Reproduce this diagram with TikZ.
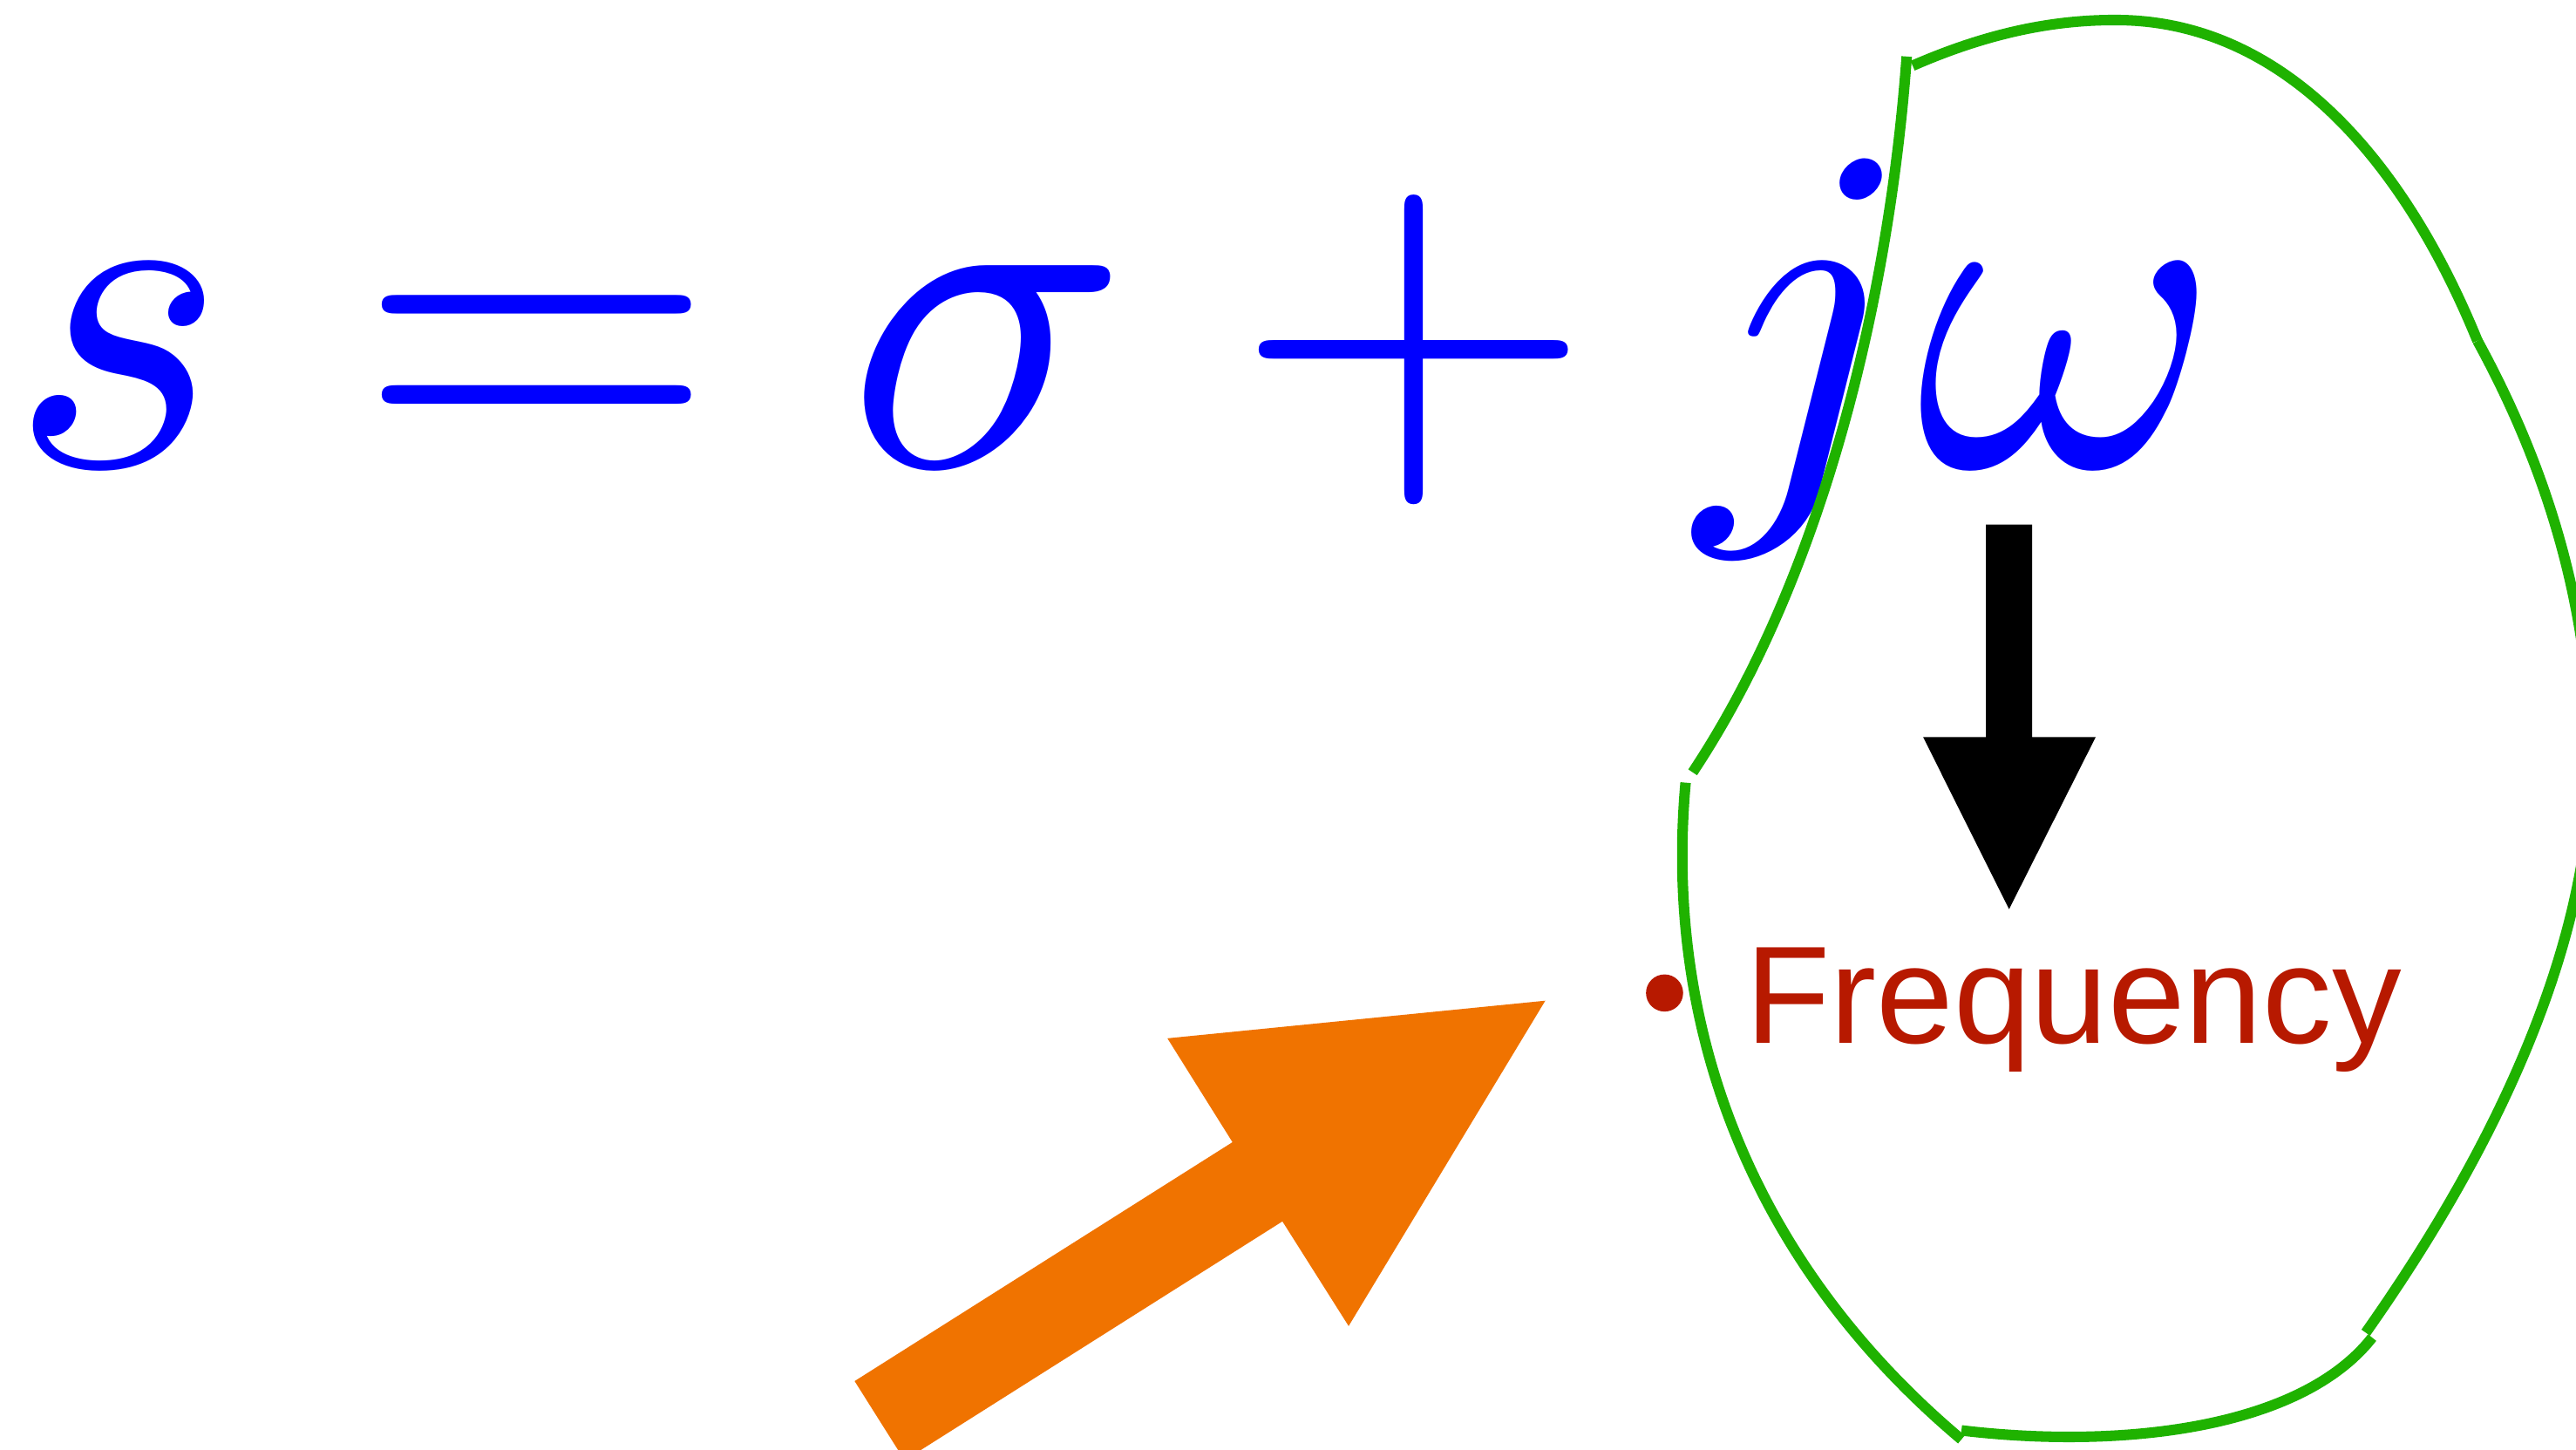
\documentclass[tikz,border=0pt]{standalone}
\usepackage{fontspec}
\newfontfamily\freqfont{Liberation Sans}
\definecolor{eqblue}{RGB}{0,0,255}
\definecolor{curvegreen}{RGB}{31,178,0}
\definecolor{arroworange}{RGB}{240,115,0}
\definecolor{freqred}{RGB}{183,25,0}
\begin{document}
\begin{tikzpicture}[x=1pt,y=-1pt,
  greenline/.style={draw=curvegreen,line width=6.4pt},
  eqtext/.style={text=eqblue,inner sep=0pt,anchor=base west,font=\fontsize{10}{12}\selectfont,scale=28.3,transform shape},
  freqtext/.style={text=freqred,inner sep=0pt,anchor=base west,font=\freqfont\fontsize{84.5}{90}\selectfont}]
\useasboundingbox (0,0) rectangle (1568,882);
\clip (0,0) rectangle (1568,882);
% equation
\node[eqtext] (eq) at (0,283.4) {$s=\sigma+j\omega$};
% black block arrow from j omega down to the label
\coordinate (ktop) at (1222.9,319.3);
\coordinate (ktip) at (1222.9,553.3);
\fill[black] (1208.8,319.3) -- (1237,319.3) -- (1237,448.6) -- (1275.6,448.6) -- (ktip) -- (1170.6,448.6) -- (1208.8,448.6) -- cycle;
% orange block arrow
\coordinate (otip) at (940.6,609);
\fill[arroworange] (520.2,840.5) -- (750.2,695.1) -- (710.6,631.9) -- (otip) -- (820.9,807) -- (780.6,743.3) -- (550.6,888.7) -- cycle;
% label
\fill[freqred] (1013.2,604.3) circle (11.3);
\node[freqtext] (freq) at (1062.3,634.8) {Frequency};
% green closed outline made of pieces
\draw[greenline] (1160.6,34.4) .. controls (1150,180) and (1110,350) .. (1030.3,470);
\draw[greenline] (1026,476.3) .. controls (1013,620) and (1062,765) .. (1193.9,876);
\draw[greenline] (1193.9,870.5) .. controls (1290,882) and (1400,870) .. (1443.9,814);
\draw[greenline] (1440,811) .. controls (1490,740) and (1578,600) .. (1577,460) .. controls (1576,360) and (1545,275) .. (1508,207.4);
\draw[greenline] (1508,207.4) .. controls (1460,90) and (1385,12.5) .. (1288.5,12.2) .. controls (1250,12) and (1210,20) .. (1164.2,40);
\end{tikzpicture}
\end{document}
